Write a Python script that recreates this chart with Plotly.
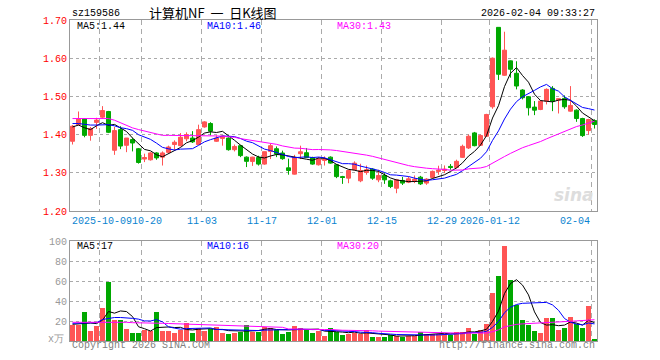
import plotly.graph_objects as go
import pandas as pd

# ---------------- data ----------------
dates = [
    "2025-09-24", "2025-09-25", "2025-09-26", "2025-09-29", "2025-09-30",
    "2025-10-09", "2025-10-10", "2025-10-13", "2025-10-14", "2025-10-15", "2025-10-16", "2025-10-17",
    "2025-10-20", "2025-10-21", "2025-10-22", "2025-10-23", "2025-10-24", "2025-10-27", "2025-10-28",
    "2025-10-29", "2025-10-30", "2025-10-31",
    "2025-11-03", "2025-11-04", "2025-11-05", "2025-11-06", "2025-11-07", "2025-11-10", "2025-11-11",
    "2025-11-12", "2025-11-13", "2025-11-14", "2025-11-17", "2025-11-18", "2025-11-19", "2025-11-20",
    "2025-11-21", "2025-11-24", "2025-11-25", "2025-11-26", "2025-11-27", "2025-11-28",
    "2025-12-01", "2025-12-02", "2025-12-03", "2025-12-04", "2025-12-05", "2025-12-08", "2025-12-09",
    "2025-12-10", "2025-12-11", "2025-12-12", "2025-12-15", "2025-12-16", "2025-12-17", "2025-12-18",
    "2025-12-19", "2025-12-22", "2025-12-23", "2025-12-24", "2025-12-25", "2025-12-26", "2025-12-29",
    "2025-12-30", "2025-12-31",
    "2026-01-05", "2026-01-06", "2026-01-07", "2026-01-08", "2026-01-09", "2026-01-12", "2026-01-13",
    "2026-01-14", "2026-01-15", "2026-01-16", "2026-01-19", "2026-01-20", "2026-01-21", "2026-01-22",
    "2026-01-23", "2026-01-26", "2026-01-27", "2026-01-28", "2026-01-29", "2026-01-30",
    "2026-02-02", "2026-02-03", "2026-02-04",
]

open_ = [1.3825, 1.426, 1.441, 1.398, 1.432, 1.4456, 1.4605, 1.359, 1.413, 1.372,
         1.387, 1.363, 1.336, 1.334, 1.352, 1.341, 1.3535, 1.374, 1.371, 1.389,
         1.391, 1.374, 1.420, 1.429, 1.3825, 1.390, 1.391, 1.3605, 1.371, 1.341,
         1.3298, 1.340, 1.3228, 1.356, 1.363, 1.3518, 1.313, 1.2965, 1.350, 1.3526,
         1.340, 1.321, 1.3325, 1.341, 1.321, 1.290, 1.286, 1.308, 1.279, 1.3008,
         1.3096, 1.2816, 1.293, 1.279, 1.2596, 1.280, 1.2754, 1.279, 1.2886, 1.273,
         1.2878, 1.3036, 1.306, 1.3167, 1.3141, 1.3404, 1.365, 1.4044, 1.372, 1.3957,
         1.4728, 1.6807, 1.5553, 1.593, 1.5605, 1.5167, 1.4991, 1.472, 1.4658, 1.4877,
         1.521, 1.4904, 1.4948, 1.4614, 1.464, 1.4421, 1.4106, 1.4369]
high = [1.425, 1.4605, 1.443, 1.420, 1.444, 1.4745, 1.462, 1.420, 1.422, 1.391,
        1.391, 1.365, 1.350, 1.354, 1.354, 1.356, 1.371, 1.385, 1.404, 1.406,
        1.409, 1.426, 1.435, 1.4325, 1.398, 1.397, 1.393, 1.374, 1.373, 1.343,
        1.342, 1.3447, 1.356, 1.3763, 1.369, 1.358, 1.337, 1.347, 1.371, 1.365,
        1.342, 1.341, 1.343, 1.343, 1.323, 1.292, 1.308, 1.330, 1.3237, 1.319,
        1.312, 1.308, 1.299, 1.282, 1.284, 1.289, 1.290, 1.293, 1.292, 1.286,
        1.306, 1.3185, 1.3193, 1.3229, 1.3343, 1.3737, 1.400, 1.407, 1.400, 1.4544,
        1.6018, 1.681, 1.6693, 1.594, 1.592, 1.519, 1.501, 1.4877, 1.490, 1.521,
        1.527, 1.4939, 1.5027, 1.527, 1.466, 1.444, 1.4413, 1.440]
low = [1.374, 1.424, 1.393, 1.384, 1.415, 1.441, 1.404, 1.347, 1.362, 1.354,
       1.356, 1.324, 1.328, 1.332, 1.334, 1.319, 1.352, 1.360, 1.369, 1.3825,
       1.378, 1.373, 1.418, 1.398, 1.381, 1.371, 1.358, 1.356, 1.341, 1.315,
       1.318, 1.319, 1.321, 1.336, 1.341, 1.334, 1.295, 1.2955, 1.336, 1.339,
       1.321, 1.319, 1.319, 1.324, 1.286, 1.271, 1.2728, 1.306, 1.2754, 1.295,
       1.2816, 1.2754, 1.271, 1.260, 1.2465, 1.268, 1.273, 1.273, 1.268, 1.2685,
       1.285, 1.2948, 1.2992, 1.308, 1.3115, 1.3387, 1.3623, 1.3693, 1.371, 1.394,
       1.4676, 1.543, 1.5535, 1.549, 1.5184, 1.4921, 1.450, 1.451, 1.464, 1.479,
       1.4614, 1.4553, 1.4676, 1.460, 1.4334, 1.3939, 1.400, 1.4158]
close = [1.422, 1.441, 1.398, 1.416, 1.438, 1.463, 1.406, 1.4105, 1.370, 1.391,
         1.378, 1.327, 1.340, 1.352, 1.339, 1.352, 1.3675, 1.380, 1.393, 1.400,
         1.381, 1.413, 1.4333, 1.409, 1.391, 1.3965, 1.3605, 1.369, 1.345, 1.330,
         1.341, 1.3228, 1.3553, 1.371, 1.349, 1.337, 1.306, 1.340, 1.355, 1.340,
         1.3228, 1.336, 1.336, 1.3254, 1.290, 1.2877, 1.306, 1.3254, 1.306, 1.308,
         1.286, 1.293, 1.2816, 1.264, 1.2816, 1.273, 1.2842, 1.283, 1.271, 1.2834,
         1.3036, 1.307, 1.3097, 1.3141, 1.330, 1.3693, 1.3957, 1.371, 1.3974, 1.4527,
         1.600, 1.5579, 1.621, 1.571, 1.5272, 1.4965, 1.4702, 1.464, 1.4877, 1.5184,
         1.4877, 1.4939, 1.4728, 1.4763, 1.4421, 1.3974, 1.4395, 1.4264]
volume = [16.0, 16.0, 29.3, 10.3, 15.3, 33.3, 59.3, 21.0, 21.3, 12.3,
          8.3, 8.3, 11.3, 9.7, 29.3, 10.3, 9.7, 8.3, 10.7, 18.3,
          8.3, 13.3, 9.7, 12.3, 14.3, 8.3, 7.3, 8.3, 9.3, 16.3,
          9.3, 9.3, 14.3, 13.3, 11.3, 7.3, 9.3, 15.3, 13.3, 12.3,
          8.3, 10.3, 5.3, 13.3, 9.3, 6.3, 7.3, 8.3, 7.3, 11.3,
          4.3, 4.3, 4.3, 6.3, 5.3, 4.3, 5.3, 5.3, 9.3, 7.3,
          7.3, 7.3, 7.3, 6.3, 9.3, 9.3, 13.3, 7.3, 11.3, 17.3,
          48.3, 65.3, 95.3, 61.3, 36.3, 21.3, 16.3, 10.3, 8.3, 23.3,
          23.3, 11.3, 13.3, 24.3, 17.3, 13.3, 35.3, 1.3]

# moving-average values before enough history is in view
ma5_head = [1.420, 1.425, 1.418, 1.413]
ma10_head = [1.429, 1.429, 1.427, 1.425, 1.425, 1.426, 1.426, 1.423, 1.418]
ma30_head = [1.442, 1.442, 1.442, 1.442, 1.442, 1.442, 1.442, 1.4377, 1.4307, 1.4237,
             1.4176, 1.4132, 1.409, 1.406, 1.402, 1.398, 1.398, 1.398, 1.398, 1.398,
             1.398, 1.398, 1.398, 1.398, 1.3965, 1.3956, 1.395, 1.393, 1.3895]
vma5_head = [16.7, 17.0, 17.7, 18.0]
vma10_head = [17.7, 17.7, 17.7, 18.0, 18.3, 21.5, 22.5, 23.5, 23.5]
vma30_head = [18.7, 18.7, 18.7, 18.7, 18.7, 18.7, 19.2, 19.2, 19.0, 18.7,
              18.3, 18.3, 18.2, 18.0, 17.7, 17.7, 17.5, 17.3, 17.2, 17.0,
              17.0, 16.8, 16.6, 16.4, 16.3, 16.2, 16.0, 15.8, 15.6]

date_labels = ["2025-10-09", "10-20", "11-03", "11-17", "12-01", "12-15", "12-29", "2026-01-12", "02-04"]
date_label_days = ["2025-10-09", "2025-10-20", "2025-11-03", "2025-11-17", "2025-12-01",
                   "2025-12-15", "2025-12-29", "2026-01-12", "2026-02-04"]
price_ticks = [1.20, 1.30, 1.40, 1.50, 1.60, 1.70]
vol_ticks = [20, 40, 60, 80, 100]

title_text = "计算机NF  一  日K线图"
code_text = "sz159586"
time_text = "2026-02-04 09:33:27"
ma_price_text = ["MA5:1.44", "MA10:1.46", "MA30:1.43"]
ma_vol_text = ["MA5:17", "MA10:16", "MA30:20"]

# ---------------- derived ----------------
idx = list(range(len(dates)))


def with_head(series, n, head):
    m = pd.Series(series).rolling(n).mean().tolist()
    return head + m[len(head):]


ma5 = with_head(close, 5, ma5_head)
ma10 = with_head(close, 10, ma10_head)
ma30 = with_head(close, 30, ma30_head)
vma5 = with_head(volume, 5, vma5_head)
vma10 = with_head(volume, 10, vma10_head)
vma30 = with_head(volume, 30, vma30_head)

RED = "#FF5555"
GREEN = "#00A800"
vol_colors = [RED if c >= o else GREEN for o, c in zip(open_, close)]

MONO = "Liberation Mono, DejaVu Sans Mono, monospace"
GRID = "#AAAAAA"
FRAME = "#999999"

# pixel helpers (plot area 70..597 x 20..341)
L, R, T, B = 70, 597, 20, 341


def px(x):
    return (x - L) / (R - L)


def py(y):
    return (B - y) / (B - T)


fig = go.Figure()

fig.add_trace(go.Candlestick(
    x=idx, open=open_, high=high, low=low, close=close,
    increasing=dict(line=dict(color=RED, width=1), fillcolor=RED),
    decreasing=dict(line=dict(color=GREEN, width=1), fillcolor=GREEN),
    whiskerwidth=0, xaxis="x", yaxis="y", hoverinfo="skip",
))
for vals, col in ((ma5, "#000000"), (ma10, "#0000FF"), (ma30, "#FF00FF")):
    fig.add_trace(go.Scatter(x=idx, y=vals, mode="lines", line=dict(color=col, width=1),
                             xaxis="x", yaxis="y", hoverinfo="skip"))

fig.add_trace(go.Bar(x=idx, y=volume, marker=dict(color=vol_colors, line=dict(width=0)),
                     width=0.83, xaxis="x2", yaxis="y2", hoverinfo="skip"))
for vals, col in ((vma5, "#000000"), (vma10, "#0000FF"), (vma30, "#FF00FF")):
    fig.add_trace(go.Scatter(x=idx, y=vals, mode="lines", line=dict(color=col, width=1),
                             xaxis="x2", yaxis="y2", hoverinfo="skip"))

grid_pos = [dates.index(d) - 0.5 for d in date_label_days]
xr = [-0.4167, len(dates) - 1 + 0.4167]

xcommon = dict(range=xr, tickvals=grid_pos, showticklabels=False, ticks="",
               showgrid=True, gridcolor=GRID, griddash="5px,4px", gridwidth=1,
               zeroline=False, showline=True, mirror=True, linecolor=FRAME, linewidth=1,
               fixedrange=True)

fig.update_layout(
    width=660, height=360,
    margin=dict(l=L, r=660 - R, t=T, b=360 - B),
    paper_bgcolor="white", plot_bgcolor="white",
    showlegend=False, hovermode=False,
    boxgap=0.33, boxgroupgap=0,
    bargap=0,
    xaxis=dict(anchor="y", domain=[0, 1], rangeslider=dict(visible=False), **xcommon),
    xaxis2=dict(anchor="y2", domain=[0, 1], matches="x", **xcommon),
    yaxis=dict(domain=[py(211), 1], range=[1.2, 1.7], tickvals=price_ticks,
               ticktext=["%.2f" % v for v in price_ticks],
               tickfont=dict(family=MONO, size=10, color="#FF0000"),
               showgrid=True, gridcolor=GRID, griddash="dot", gridwidth=1,
               zeroline=False, showline=True, mirror=True, linecolor=FRAME, linewidth=1,
               ticks="", anchor="x"),
    yaxis2=dict(domain=[0, py(241)], range=[0, 100], tickvals=vol_ticks,
                ticktext=[str(v) for v in vol_ticks],
                tickfont=dict(family=MONO, size=10, color="#999999"),
                showgrid=True, gridcolor=GRID, griddash="dot", gridwidth=1,
                zeroline=False, showline=True, mirror=True, linecolor=FRAME, linewidth=1,
                ticks="", anchor="x2"),
)

ann = []


def text(x, y, s, color="#000000", size=10, family=MONO, xanchor="left", **kw):
    ann.append(dict(x=px(x), y=py(y), xref="paper", yref="paper", text=s, showarrow=False,
                    xanchor=xanchor, yanchor="middle",
                    font=dict(family=family, size=size, color=color), **kw))


text(70, 13.5, code_text)
text(213, 12.5, title_text, size=13, family="Noto Sans CJK SC", xanchor="center")
text(597, 13.5, time_text, xanchor="right")

for s, x, c in zip(ma_price_text, (75, 205, 335), ("#000000", "#0000FF", "#FF00FF")):
    text(x, 26, s, color=c)
for s, x, c in zip(ma_vol_text, (75, 205, 335), ("#000000", "#0000FF", "#FF00FF")):
    text(x, 246, s, color=c)

n_lab = len(date_labels)
for i, (lab, gp) in enumerate(zip(date_labels, grid_pos)):
    xa, xoff = "center", 0
    if i == 0:
        xa, xoff = "left", -30          # clamped to the left frame edge
    elif i == 1:
        xa, xoff = "left", -12          # sits right after the first label
    elif i == n_lab - 1:
        xa = "right"
    ann.append(dict(x=gp, y=py(221.5), xref="x", yref="paper", text=lab, showarrow=False,
                    xanchor=xa, xshift=xoff, yanchor="middle",
                    font=dict(family=MONO, size=10, color="#0A84D0")))

text(66, 339, "x万", color="#999999", xanchor="right")
text(70, 345.5, "Copyright 2026 SINA.COM", color="#808080")
text(597, 345.5, "http://finance.sina.com.cn", color="#808080", xanchor="right")
text(596, 195, "<b><i>sina</i></b>", color="#DDDDDD", size=17, family="DejaVu Sans", xanchor="right")

fig.update_layout(annotations=ann)
fig.write_html("out.html")
